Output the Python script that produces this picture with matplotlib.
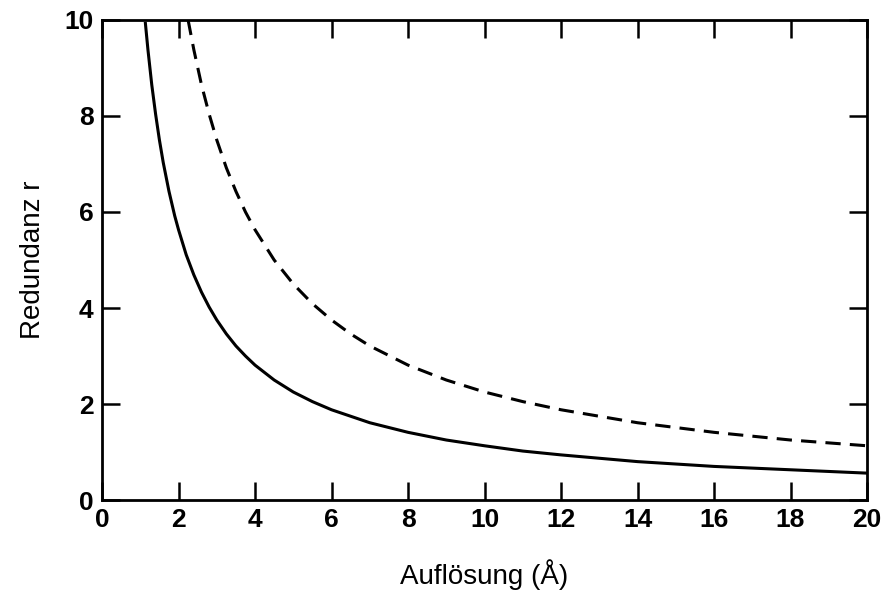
import matplotlib
matplotlib.use('Agg')
import matplotlib.pyplot as plt

# Werte
aufl_solid = [1.13, 1.2, 1.3, 1.4, 1.5, 1.6, 1.75, 1.9, 2.0, 2.2, 2.4, 2.6, 2.8, 3.0, 3.25, 3.5, 3.75, 4.0, 4.5, 5.0, 5.5,
              6.0, 7.0, 8.0, 9.0, 10.0, 11.0, 12.0, 14.0, 16.0, 18.0, 20.0]
red_solid = [9.96, 9.38, 8.65, 8.04, 7.5, 7.03, 6.43, 5.92, 5.63, 5.11, 4.69, 4.33, 4.02, 3.75, 3.46, 3.21, 3.0, 2.81, 2.5,
             2.25, 2.05, 1.88, 1.61, 1.41, 1.25, 1.13, 1.02, 0.94, 0.80, 0.70, 0.63, 0.56]

aufl_dash = [2.25, 2.4, 2.6, 2.8, 3.0, 3.25, 3.5, 3.75, 4.0, 4.5, 5.0, 5.5, 6.0, 6.5, 7.0, 8.0, 9.0, 10.0, 11.0,
             12.0, 14.0, 16.0, 18.0, 20.0]
red_dash = [10.0, 9.38, 8.65, 8.04, 7.5, 6.92, 6.43, 6.0, 5.63, 5.0, 4.5, 4.09, 3.75, 3.46, 3.21, 2.81, 2.5, 2.25, 2.05,
            1.88, 1.61, 1.41, 1.25, 1.13]

xticks = [0, 2, 4, 6, 8, 10, 12, 14, 16, 18, 20]
yticks = [0, 2, 4, 6, 8, 10]

plt.rcParams['font.family'] = ['Liberation Sans', 'DejaVu Sans']

fig = plt.figure(figsize=(8.85, 5.93), dpi=100)
ax = fig.add_axes([0.1153, 0.1568, 0.8644, 0.8095])

ax.plot(aufl_solid, red_solid, color='black', lw=2.2, solid_capstyle='butt', solid_joinstyle='round')
ax.plot(aufl_dash, red_dash, color='black', lw=2.2, dashes=(5, 3), dash_capstyle='butt')

ax.set_xlim(0, 20)
ax.set_ylim(0, 10)
ax.set_xticks(xticks)
ax.set_yticks(yticks)
for s in ax.spines.values():
    s.set_linewidth(2.0)
ax.tick_params(direction='in', length=13, width=1.8, top=True, right=True,
               labelsize=19, pad=6)
for lbl in ax.get_xticklabels() + ax.get_yticklabels():
    lbl.set_fontweight('bold')

ax.set_xlabel('Auflösung (Å)', fontsize=20, labelpad=19)
ax.set_ylabel('Redundanz r', fontsize=20, labelpad=13)

fig.savefig('out.png', dpi=100)
